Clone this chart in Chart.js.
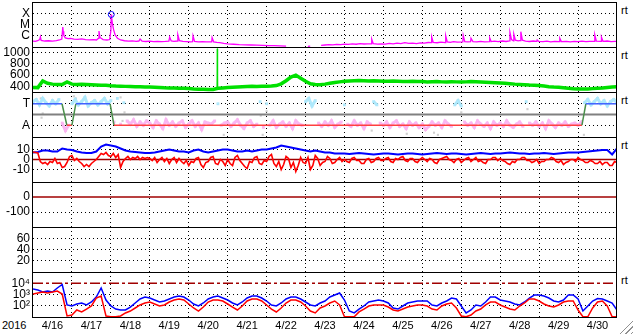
<!DOCTYPE html>
<html><head><meta charset="utf-8">
<script src="https://cdn.jsdelivr.net/npm/chart.js@4/dist/chart.umd.min.js"></script>
<style>
html,body{margin:0;padding:0;background:#fff;}
body{width:633px;height:334px;overflow:hidden;position:relative;font-family:"Liberation Sans",Arial,Helvetica,sans-serif;}
canvas{position:absolute;left:0;}
.t{position:absolute;font-size:11px;line-height:12px;color:#000;white-space:nowrap;}
#grip{position:absolute;left:619px;top:320px;width:14px;height:14px;background:repeating-linear-gradient(135deg,transparent 0 2px,#909090 2px 3px,transparent 3px 4px);clip-path:polygon(100% 0,100% 100%,0 100%);}
</style></head><body>
<div class="t" style="left:2px;top:319px;">2016</div>
<div class="t" style="left:621px;top:4px;">rt</div>
<div class="t" style="left:621px;top:49px;">rt</div>
<div class="t" style="left:621px;top:94px;">rt</div>
<div class="t" style="left:621px;top:139px;">rt</div>
<div class="t" style="left:621px;top:274px;">rt</div>
<div id="grip"></div>
<script>
// ---------------- DATA ----------------
const dayLabels = ['4/16','4/17','4/18','4/19','4/20','4/21','4/22','4/23','4/24','4/25','4/26','4/27','4/28','4/29','4/30'];
const step3h = 0.125, step2h = 1/12, step90m = 0.0625;

// X-ray flux (W/m2) [day, flux]
const xrayFlux = [[0,3.4e-7],[0.06,3.2e-7],[0.12,3.6e-7],[0.17,4.5e-7],[0.19,8e-7],[0.21,3.8e-7],[0.3,3.4e-7],[0.4,3.6e-7],[0.5,3.3e-7],[0.6,3.7e-7],[0.68,4.2e-7],[0.74,5e-7],[0.765,6e-6],[0.775,2.5e-6],[0.79,1.1e-6],[0.83,6.5e-7],[0.9,5.5e-7],[0.97,5.8e-7],[1.05,5e-7],[1.15,4.8e-7],[1.25,5.2e-7],[1.35,4.5e-7],[1.45,4.3e-7],[1.55,4.6e-7],[1.63,4.2e-7],[1.685,6e-7],[1.695,2.6e-6],[1.72,7e-7],[1.8,4.5e-7],[1.9,4.2e-7],[1.97,4.6e-7],[2.0,3e-6],[2.01,7.8e-5],[2.02,4e-5],[2.04,1.2e-5],[2.07,3.5e-6],[2.11,1.2e-6],[2.17,6e-7],[2.25,4.2e-7],[2.35,3.6e-7],[2.45,3.3e-7],[2.55,3.5e-7],[2.65,3.2e-7],[2.72,3.4e-7],[2.75,5e-7],[2.8,3.4e-7],[2.9,3.1e-7],[3.0,3.3e-7],[3.1,3e-7],[3.2,3.2e-7],[3.3,3e-7],[3.4,3.1e-7],[3.49,3.3e-7],[3.51,7.5e-7],[3.55,3.4e-7],[3.62,3.2e-7],[3.71,3.4e-7],[3.72,1.2e-6],[3.76,3.6e-7],[3.85,3.1e-7],[3.95,3e-7],[4.05,2.9e-7],[4.1,3e-7],[4.11,1e-6],[4.15,3.2e-7],[4.25,2.9e-7],[4.35,3e-7],[4.45,2.8e-7],[4.59,2.9e-7],[4.6,6.7e-7],[4.64,2.9e-7],[4.72,2.6e-7],[4.8,2.4e-7],[4.9,2.1e-7],[5.0,1.9e-7],[5.15,1.75e-7],[5.3,1.6e-7],[5.45,1.55e-7],[5.6,1.5e-7],[5.75,1.45e-7],[5.9,1.4e-7],[6.05,1.35e-7],[6.2,1.3e-7],[6.35,1.25e-7],[6.5,1.2e-7],[6.51,null],[7.04,null],[7.06,1.15e-7],[7.12,1.2e-7],[7.13,null],[7.38,null],[7.4,1.4e-7],[7.5,1.5e-7],[7.6,1.6e-7],[7.7,1.55e-7],[7.8,1.7e-7],[7.9,1.65e-7],[8.0,1.8e-7],[8.1,1.7e-7],[8.2,1.9e-7],[8.3,1.75e-7],[8.4,2e-7],[8.5,1.85e-7],[8.6,1.9e-7],[8.69,1.9e-7],[8.7,5e-7],[8.74,2e-7],[8.85,1.8e-7],[8.95,1.9e-7],[9.05,1.8e-7],[9.15,2.1e-7],[9.25,1.9e-7],[9.35,2.2e-7],[9.45,2e-7],[9.55,2.4e-7],[9.65,2.1e-7],[9.75,2.2e-7],[9.85,2e-7],[9.95,2.3e-7],[10.05,2.2e-7],[10.15,2.5e-7],[10.23,2.4e-7],[10.24,8e-7],[10.28,2.6e-7],[10.38,2.4e-7],[10.48,2.7e-7],[10.59,2.5e-7],[10.6,1e-6],[10.64,2.8e-7],[10.72,2.6e-7],[10.8,3e-7],[10.9,2.7e-7],[11.04,2.8e-7],[11.05,1.1e-6],[11.09,3e-7],[11.17,2.8e-7],[11.24,3e-7],[11.25,6e-7],[11.3,3e-7],[11.4,2.8e-7],[11.5,3.2e-7],[11.6,2.9e-7],[11.72,3e-7],[11.73,6.5e-7],[11.77,3e-7],[11.85,3.3e-7],[11.95,3e-7],[12.05,3.4e-7],[12.15,3.1e-7],[12.24,3.5e-7],[12.25,2e-6],[12.29,4.5e-7],[12.34,3.6e-7],[12.35,1.4e-6],[12.39,4e-7],[12.46,3.5e-7],[12.52,3.8e-7],[12.53,2.3e-6],[12.57,4e-7],[12.65,3.3e-7],[12.75,3.1e-7],[12.85,3.4e-7],[12.94,3.2e-7],[12.95,4.2e-7],[12.99,3.1e-7],[13.1,3e-7],[13.2,3.3e-7],[13.3,2.9e-7],[13.4,3.1e-7],[13.52,3e-7],[13.53,6e-7],[13.57,3e-7],[13.7,3.2e-7],[13.8,2.9e-7],[13.9,3.1e-7],[14.0,3e-7],[14.1,3.3e-7],[14.2,3e-7],[14.3,3.2e-7],[14.42,3.1e-7],[14.43,1.2e-6],[14.47,3.3e-7],[14.59,3.2e-7],[14.6,7.5e-7],[14.64,3.2e-7],[14.75,3.4e-7],[14.85,3e-7],[14.95,3.2e-7],[15,3.1e-7]];
const flarePeaks = [[2.01,7.8e-5]];
const xrayTicks = [1e-6,1e-5,1e-4];
const xrayTickLabels = ['C','M','X'];

// Solar wind speed (km/s), 3-hour cadence
const windSpeed = [380,378,495,455,440,435,432,478, 440,435,437,432,428,425,420,418, 410,405,402,400,398,395,392,390, 388,385,380,375,372,370,368,365, 362,355,350,347,345,344,365,372, 380,386,390,395,398,400,398,402, 402,405,415,445,500,565,600,545, 490,445,435,430,440,455,470,480, 490,495,500,505,500,495,500,495, 490,492,495,490,485,488,490,487, 485,480,482,485,480,478,482,480, 478,480,485,482,478,475,470,465, 460,455,448,440,435,430,425,422, 415,405,395,388,383,375,365,358, 355,352,355,360,365,370,380,390, 395];
const windSpike = [[4.724,350],[4.733,1070],[4.742,368]];
const windTicks = [400,600,800,1000];

// IMF sector: smoothed polarity steps and 2-hour angle samples (T>0, A<0)
const sectorStepT = [0,0.745,0.87,1.0,1.1,1.98,2.08,14.1,14.2,15];
const sectorStepV = [1,1,-1,-1,1,1,-1,-1,1,1];
const sectorPhi = [1.2,1.4,0.9,1.5,1.1,0.8,1.3,1.0,1.4,-0.8,-1.5,-1.0,
 1.0,1.4,0.9,1.2,1.6,0.8,1.1,1.3,0.9,1.2,1.5,1.0,
 1.3,-0.7,1.5,-0.9,1.1,-0.6,-0.9,-0.5,-1.1,-0.7,-1.0,-0.6,
 -0.8,-1.2,-0.6,-0.9,-1.3,-0.5,-1.0,-0.7,-1.1,-0.8,-0.6,-1.2,
 -0.9,-0.6,-1.1,-0.8,-1.4,-0.7,-0.8,-0.9,-0.6,1.0,-1.0,-0.8,
 -0.7,-1.1,-0.8,-0.5,-1.0,-1.3,-0.8,-0.6,-1.1,-0.9,1.2,-1.2,
 1.0,-1.0,-0.6,-1.2,-0.9,-0.7,-1.1,-0.8,-1.3,-0.6,-0.9,-1.0,
 1.2,1.5,0.8,1.3,-0.8,-1.1,-0.7,-1.0,-0.6,-1.2,-0.9,-0.7,
 0.9,-0.9,-1.1,-0.6,-1.0,-0.8,-1.3,-0.7,-0.9,1.2,0.9,-0.8,
 -1.0,-0.7,-1.2,-0.8,-0.6,-1.1,-0.9,-1.3,-0.7,-1.0,-0.8,-1.2,
 -0.9,-1.4,-1.1,-0.7,-1.0,-0.8,-1.2,-0.6,-0.9,-1.1,0.9,1.3,
 0.8,-0.7,-1.0,-0.8,-1.2,-0.6,-0.9,-1.1,-0.8,-1.3,-0.7,-1.0,
 -0.8,-1.1,-0.6,-1.0,-1.2,-0.9,-0.7,-1.1,1.2,-0.8,-1.0,-0.7,
 -1.1,-0.8,-1.3,-0.6,-0.9,-1.2,-0.8,-1.0,-0.7,-1.1,-0.9,-0.8,
 -1.0,-0.7,1.1,1.4,0.9,1.2,1.5,1.0,1.3,0.8,1.2,1.4,
 1.1];
const sectorGray = [[0.2,1.5],[0.22,-0.3],[0.25,0.1],[1.05,1.7],[1.1,1.5],[2.25,1.6],[2.3,-0.6],[2.35,0.2],[4.9,-1.9],[5.85,-0.1],[5.9,-1.9],[6.0,0.3],[8.7,-1.5],[9.6,-1.8],[10.3,-1.7],[10.4,-1.9],[11.0,0.2],[12.7,0.5],[14.1,-0.6],[14.15,-1.9]];
const sectorTicks = [-1,1];
const sectorTickLabels = ['A','T'];
const sectorNeutral = 0;

// IMF Bt (nT) 3-hour cadence, Bz (nT) 90-minute cadence
const imfBt = [7,7.5,9,9,8,8,11,10, 9.5,8,7,6.5,6.5,8,13,15, 14,13,11,9,8,7.5,7,6.5, 6.5,7,8,9,10,9,8,8, 7,9,10,8,7,8,9,10, 10,9,8,8,9,8,9,10, 10,11,12,14,13,12,11,10, 9,8,9,8,7,7,6,6, 6,5.5,6,6.5,6,5.5,5,5.5, 6,6,5.5,5,5.5,6,6,5.5, 5,5.5,6,6.5,6,5.5,6,6, 5.5,5,5.5,6,6.5,6,5.5,6, 6,6.5,7,6.5,6,6,5.5,6, 6,6.5,6,5.5,6,6.5,7,7, 7,7.5,8,8.5,9,9.5,9.5,5, 11];
const imfBz = [7.5,7,6.5,-2,-4,-3,-5,-2,-3,1,-4,-3,-8,-7,-3,3,
 4,-1,1,-2,-4,-7,-5,-7,-4,-2,0,3,6,5,7,4,
 3,6,2,5,-8,-2,1,3,0,2,1,3,0,2,1,2,
 1,-1,2,-3,0,2,-2,1,-4,0,2,-3,1,-2,-4,-1,
 -6,-2,-3,1,2,-5,-8,-3,-2,2,3,-4,-5,0,-2,-6,
 0,-4,-6,2,4,-1,-4,-7,-9,-2,-3,2,3,-4,-5,-1,
 -2,3,5,-4,-7,-2,-10,-5,3,1,-8,-3,-12,-6,2,-3,
 -4,2,-10,-6,4,1,-6,-3,-2,3,1,-4,-3,0,2,-2,
 0,-2,-3,1,2,-1,-1,-4,-4,0,1,-3,-2,1,2,-1,
 -1,1,2,-2,-3,1,0,2,3,-1,-2,1,1,-2,-3,0,
 2,0,-2,1,0,-3,-4,0,1,2,3,0,-1,-3,0,1,
 -3,-1,1,2,-2,0,2,-2,-1,-3,-4,0,0,2,2,-1,
 1,-1,-2,-4,-5,-2,-3,0,0,2,2,-1,-1,-3,-2,0,
 -4,-2,-2,0,0,2,1,-2,-3,-1,-5,-3,-2,0,0,-2,
 2,0,-1,-3,-3,-1,-2,-4,-4,-2,-5,-3,-3,-6,-6,-2,
 -3];
const imfTicks = [-10,0,10];
const bzZeroLevel = 0;

// Dst panel (no data)
const dstTicks = [-100,0];
const dstZeroLevel = 0;
// Panel 6 (no data)
const p6Ticks = [20,40,60];

// >2 MeV electron flux, 3-hour cadence, two satellites
const electronBlue = [3080,2510,1670,2050,1670,3780,7740,117, 95,143,176,117,215,599,3780,324, 95,51,42,42,77,176,398,599, 489,324,215,264,398,599,736,599, 324,143,95,176,398,599,736,489, 324,176,117,215,489,736,736,489, 264,117,95,176,398,599,599,398, 215,117,95,176,264,599,903,1360, 324,34,23,51,95,215,264,324, 264,176,63,51,95,176,215,264, 264,264,117,95,176,264,489,398, 95,23,42,117,95,215,599,599, 324,264,215,143,117,215,489,903, 903,736,489,264,215,324,903,903, 398,34,95,264,441,398,264,176, 42];
const electronRed = [1110,1360,1670,1360,1670,2050,1110,12.3, 15,42,28,51,95,489,736,12.3, 10.5,10.5,12.3,23,34,63,117,176, 215,143,95,117,215,324,398,324, 143,63,34,77,215,324,324,264, 143,77,42,95,264,398,398,264, 117,51,28,63,176,324,324,215, 95,34,23,63,95,176,264,117, 10.5,10.5,10.5,28,51,95,117,117, 117,77,42,34,51,77,95,117, 117,95,51,42,95,143,176,63, 12.3,10.5,15,34,51,117,215,215, 117,77,51,42,95,176,398,398, 264,143,95,77,117,215,264,264, 42,10.5,10.5,63,215,264,95,10.5, 10.5];
const eTicks = [1e2,1e3,1e4];
const eTickLabels = ['10\u00B2','10\u00B3','10\u2074'];
const eAlertLevel = 1e4;

// ---------------- CHART ----------------
Chart.defaults.font.family = '"Liberation Sans", Arial, Helvetica, sans-serif';
Chart.defaults.font.size = 12;
Chart.defaults.color = '#000';

const SPAN = dayLabels.length;
const xTickVals = [];
for (let k = 0; k <= SPAN * 2; k++) xTickVals.push(k / 2);

const seq = (vals, step) => vals.map((v, i) => ({x: i * step, y: v}));
const pairs = arr => arr.map(p => ({x: p[0], y: p[1]}));
const level = v => [{x: 0, y: v}, {x: SPAN, y: v}];
const steps = (ts, vs) => ts.map((t, i) => ({x: t, y: vs[i]}));

const DOT = [1, 3];
const frame = {
  id: 'frame',
  afterDatasetsDraw(chart) {
    const {ctx, chartArea: a} = chart;
    ctx.save();
    ctx.strokeStyle = '#000';
    ctx.lineWidth = 1;
    ctx.strokeRect(a.left - 0.5, a.top + 0.5, a.right - a.left, a.bottom - a.top);
    ctx.restore();
  }
};
const noPad = s => { s.paddingTop = 0; s.paddingBottom = 0; s.paddingLeft = 0; s.paddingRight = 0; };

function xAxis(show) {
  return {
    type: 'linear', min: 0, max: SPAN,
    afterBuildTicks: s => { s.ticks = xTickVals.map(v => ({value: v})); },
    afterFit: s => { s.height = show ? 17 : 0; noPad(s); },
    ticks: {
      display: show, autoSkip: false, maxRotation: 0, minRotation: 0, padding: 2,
      font: {size: 11},
      callback: v => (Math.abs(v - Math.floor(v) - 0.5) < 1e-6) ? dayLabels[Math.floor(v)] : ''
    },
    grid: {
      drawTicks: false, lineWidth: 1,
      color: c => {
        const v = c.tick ? c.tick.value : -1;
        return (Number.isInteger(v) && v > 0 && v < SPAN) ? '#000' : 'rgba(0,0,0,0)';
      }
    },
    border: {display: false, dash: DOT}
  };
}

function yAxis(type, min, max, tickVals, labels, hidden) {
  return {
    type, min, max,
    afterBuildTicks: s => { s.ticks = tickVals.map(v => ({value: v})); },
    afterFit: s => { s.width = 33; noPad(s); },
    ticks: {
      padding: 3, autoSkip: false, font: {size: 12},
      callback: (v) => {
        const i = tickVals.indexOf(v);
        return labels ? (i >= 0 ? labels[i] : '') : String(v);
      }
    },
    grid: {
      drawTicks: false, lineWidth: 1,
      color: c => {
        const v = c.tick ? c.tick.value : null;
        return (hidden && hidden.includes(v)) ? 'rgba(0,0,0,0)' : '#000';
      }
    },
    border: {display: false, dash: DOT}
  };
}

const PANEL_H = 45, FIRST_TOP = 2, CW = 633;
function panel(idx, yScale, datasets, showX) {
  const top = FIRST_TOP + idx * PANEL_H;
  const h = showX ? PANEL_H + 19 : PANEL_H + 4;
  const cv = document.createElement('canvas');
  cv.width = CW; cv.height = h;
  cv.style.top = (top - 2) + 'px';
  cv.style.width = CW + 'px'; cv.style.height = h + 'px';
  document.body.appendChild(cv);
  datasets.forEach(d => {
    if (d.pointRadius === undefined) d.pointRadius = 0;
    d.clip = 0;
    d.tension = 0;
  });
  new Chart(cv, {
    type: 'line',
    data: {datasets},
    options: {
      responsive: false, animation: false, devicePixelRatio: 1, events: [],
      layout: {autoPadding: false, padding: {left: 0, right: 16, top: 2, bottom: showX ? 0 : 2}},
      plugins: {legend: {display: false}, tooltip: {enabled: false}},
      scales: {x: xAxis(showX), y: yScale}
    },
    plugins: [frame]
  });
}

// 1: X-ray
panel(0, yAxis('logarithmic', 1e-7, 1e-3, xrayTicks, xrayTickLabels), [
  {data: pairs(flarePeaks), showLine: false, pointRadius: 3, pointStyle: 'circle', pointBorderColor: '#0000ff', pointBackgroundColor: 'rgba(0,0,0,0)', pointBorderWidth: 1, order: 0},
  {data: pairs(xrayFlux), borderColor: '#ff00ff', borderWidth: 1.3, spanGaps: false, order: 1}
]);

// 2: solar wind speed
panel(1, yAxis('linear', 300, 1100, windTicks), [
  {data: pairs(windSpike), borderColor: '#00e000', borderWidth: 1, order: 1},
  {data: seq(windSpeed, step3h), borderColor: '#00e000', borderWidth: 3.5, order: 2}
]);

// 3: sector
panel(2, yAxis('linear', -2.1, 2.1, sectorTicks, sectorTickLabels), [
  {data: steps(sectorStepT, sectorStepV), borderWidth: 1.5, borderColor: '#4060ff',
   segment: {borderColor: c => c.p0.parsed.y !== c.p1.parsed.y ? '#4a8f4a' : (c.p0.parsed.y > 0 ? '#4060ff' : '#ff4040')}, order: 0},
  {data: level(sectorNeutral), borderColor: '#808080', borderWidth: 2, order: 1},
  {data: pairs(sectorGray), showLine: false, pointRadius: 1.5, pointStyle: 'rect', pointBorderWidth: 0, pointBackgroundColor: '#cfcfcf', order: 3},
  {data: seq(sectorPhi, step2h), borderWidth: 3, pointRadius: 2, pointStyle: 'rect', pointBorderWidth: 0,
   pointBackgroundColor: c => (c.raw && c.raw.y > 0) ? '#aee8fb' : '#fbb6f2',
   segment: {borderColor: c => (c.p0.parsed.y > 0 && c.p1.parsed.y > 0) ? '#aee8fb' : ((c.p0.parsed.y < 0 && c.p1.parsed.y < 0) ? '#fbb6f2' : 'rgba(0,0,0,0)')},
   order: 2}
]);

// 4: IMF
panel(3, yAxis('linear', -22.5, 22.5, imfTicks, null, [0]), [
  {data: seq(imfBz, step90m), borderColor: '#ff0000', borderWidth: 1.6, order: 1},
  {data: seq(imfBt, step3h), borderColor: '#0000ff', borderWidth: 2, order: 2},
  {data: level(bzZeroLevel), borderColor: '#a00000', borderWidth: 1.5, order: 3}
]);

// 5: Dst
panel(4, yAxis('linear', -200, 100, dstTicks, null, [0]), [
  {data: level(dstZeroLevel), borderColor: '#a00000', borderWidth: 1.5}
]);

// 6
panel(5, yAxis('linear', 0, 80, p6Ticks), []);

// 7: electrons
panel(6, yAxis('logarithmic', 10, 1e5, eTicks, eTickLabels, [1e4]), [
  {data: seq(electronRed, step3h), borderColor: '#ff0000', borderWidth: 1.5, order: 1},
  {data: seq(electronBlue, step3h), borderColor: '#0000ff', borderWidth: 1.5, order: 2},
  {data: level(eAlertLevel), borderColor: '#a00000', borderWidth: 1.5, borderDash: [10, 3, 3, 3], order: 3}
], true);
</script>
</body></html>
